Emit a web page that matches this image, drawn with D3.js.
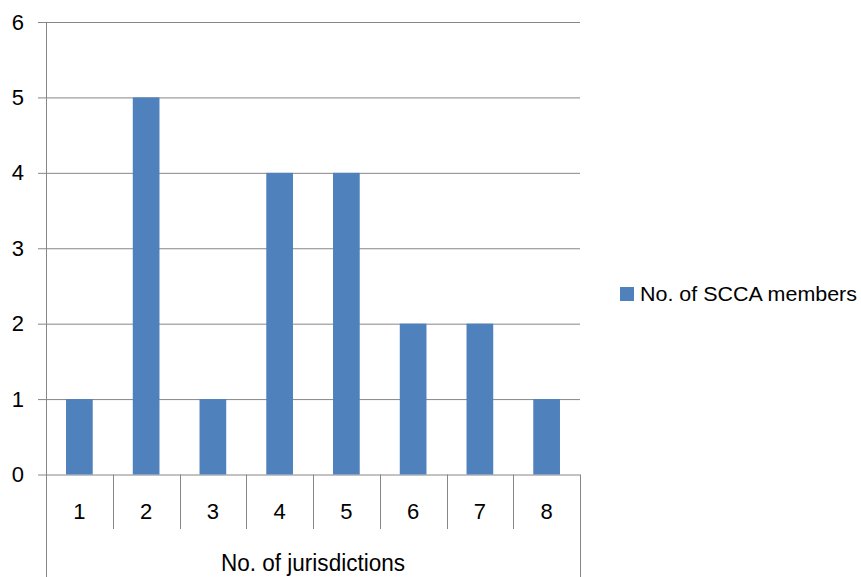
<!DOCTYPE html>
<html>
<head>
<meta charset="utf-8">
<script src="https://cdn.jsdelivr.net/npm/d3@7"></script>
<style>
  html, body { margin: 0; padding: 0; background: #fff; }
  svg { display: block; }
  text { font-family: "Liberation Sans", Arial, sans-serif; fill: #000; }
</style>
</head>
<body>
<svg id="chart" width="861" height="577"></svg>
<script>
// Number of SCCA members by number of jurisdictions
const categories = ["1", "2", "3", "4", "5", "6", "7", "8"];
const members = [1, 5, 1, 4, 4, 2, 2, 1];
const yTicks = [0, 1, 2, 3, 4, 5, 6];
const seriesName = "No. of SCCA members";
const xTitle = "No. of jurisdictions";

const svg = d3.select("#chart");
const gridColor = "#868686";
const barColor = "#4F81BD";

const plot = { left: 46, right: 580, top: 22, bottom: 474.5 };
const sepBottom = 529;      // category separator lines end
const frameBottom = 577;    // outer axis lines run to the bottom edge

const x = d3.scaleBand().domain(categories).range([plot.left, plot.right]).padding(0);
const y = d3.scaleLinear().domain([0, 6]).range([plot.bottom, plot.top]);

// horizontal gridlines
svg.append("g")
  .attr("transform", `translate(${plot.left},0)`)
  .call(d3.axisLeft(y).tickValues(yTicks).tickSize(-(plot.right - plot.left)).tickFormat(""))
  .call(g => g.select(".domain").remove())
  .call(g => g.selectAll("line").attr("stroke", gridColor).attr("stroke-width", 1));

// y axis ticks and labels
svg.append("g")
  .attr("transform", `translate(${plot.left},0)`)
  .call(d3.axisLeft(y).tickValues(yTicks).tickSize(8).tickPadding(14).tickFormat(d3.format("d")))
  .call(g => g.select(".domain").remove())
  .call(g => g.selectAll("line").attr("stroke", gridColor))
  .call(g => g.selectAll("text")
    .style("font-family", '"Liberation Sans", Arial, sans-serif')
    .style("font-size", "22px").attr("fill", "#000"));

// bars
const barW = x.bandwidth() * 0.4;
svg.append("g").selectAll("rect")
  .data(categories.map((c, i) => ({ c, v: members[i] })))
  .join("rect")
  .attr("x", d => x(d.c) + (x.bandwidth() - barW) / 2)
  .attr("y", d => y(d.v))
  .attr("width", barW)
  .attr("height", d => y(0) - y(d.v))
  .attr("fill", barColor);

// category labels
svg.append("g")
  .attr("transform", `translate(0,${plot.bottom})`)
  .call(d3.axisBottom(x).tickSize(0).tickPadding(0))
  .call(g => g.select(".domain").remove())
  .call(g => g.selectAll("text")
    .attr("y", 44).attr("dy", 0)
    .style("font-family", '"Liberation Sans", Arial, sans-serif')
    .style("font-size", "22px").attr("fill", "#000"));

// category separators
const bounds = categories.map(c => x(c)).concat([plot.right]);
svg.append("g").selectAll("line")
  .data(bounds)
  .join("line")
  .attr("x1", d => Math.round(d) + 0.5).attr("x2", d => Math.round(d) + 0.5)
  .attr("y1", plot.bottom)
  .attr("y2", (d, i) => (i === 0 || i === bounds.length - 1) ? frameBottom : sepBottom)
  .attr("stroke", gridColor).attr("stroke-width", 1);

// vertical axis line
svg.append("line")
  .attr("x1", plot.left + 0.5).attr("x2", plot.left + 0.5)
  .attr("y1", plot.top).attr("y2", frameBottom)
  .attr("stroke", gridColor);

// x axis title
svg.append("text")
  .attr("x", (plot.left + plot.right) / 2)
  .attr("y", 571)
  .attr("text-anchor", "middle")
  .style("font-size", "23px")
  .attr("textLength", 184)
  .attr("lengthAdjust", "spacingAndGlyphs")
  .text(xTitle);

// legend
const legend = svg.append("g").attr("transform", "translate(620,287)");
legend.append("rect").attr("width", 14).attr("height", 14).attr("fill", barColor);
legend.append("text")
  .attr("x", 20).attr("y", 14)
  .style("font-size", "21px")
  .attr("textLength", 217)
  .attr("lengthAdjust", "spacingAndGlyphs")
  .text(seriesName);
</script>
</body>
</html>
